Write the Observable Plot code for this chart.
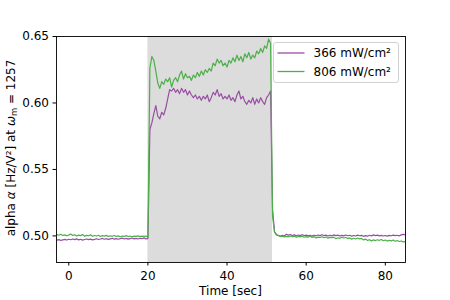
<!DOCTYPE html>
<html><head><meta charset="utf-8">
<script src="https://cdn.jsdelivr.net/npm/d3@7"></script>
<script src="https://cdn.jsdelivr.net/npm/@observablehq/plot@0.6"></script>
<style>
body{margin:0;background:#fff}
svg{font-family:"DejaVu Sans",sans-serif}
</style>
</head><body><div id="chart"></div>
<script>
const seriesNames = ["366 mW/cm²", "806 mW/cm²"];
const seriesColors = ["#984ea3", "#4daf4a"];
const lightOn = [{start: 20, end: 51.5}];
const xTicks = [0, 20, 40, 60, 80];
const yTicks = [0.50, 0.55, 0.60, 0.65];
const xDomain = [-3.1, 85.1];
const yDomain = [0.48, 0.65];
// sample times: every 0.5 s from -3 to 85
const time = d3.range(-3, 85.001, 0.5);

// 366 mW/cm² series
const alpha366 = [
  0.4968,0.4972,0.4966,0.4970,0.4974,0.4969,0.4975,0.4971,0.4977,0.4972,
  0.4978,0.4970,0.4975,0.4968,0.4973,0.4977,0.4972,0.4976,0.4970,0.4974,
  0.4979,0.4973,0.4977,0.4981,0.4975,0.4979,0.4974,0.4978,0.4982,0.4976,
  0.4980,0.4975,0.4979,0.4983,0.4977,0.4981,0.4976,0.4980,0.4984,0.4978,
  0.4981,0.4977,0.4982,0.4979,0.4985,0.4978,
  0.4980,
  0.580,0.585,0.592,0.598,0.590,0.588,0.593,0.591,0.596,0.603,
  0.610,0.609,0.611,0.608,0.610,0.607,0.611,0.608,0.610,0.606,
  0.609,0.606,0.604,0.606,0.603,0.605,0.602,0.605,0.603,0.606,
  0.601,0.604,0.608,0.606,0.610,0.605,0.607,0.603,0.605,0.603,
  0.606,0.602,0.604,0.601,0.606,0.609,0.603,0.605,0.601,0.599,
  0.602,0.600,0.604,0.599,0.603,0.600,0.604,0.601,0.599,0.604,
  0.606,0.609,
  0.520,0.503,
  0.5008,0.5002,0.4998,0.5004,0.4999,0.5012,0.5006,0.5010,0.5003,0.5008,
  0.5001,0.5007,0.5002,0.5009,0.5003,0.5006,0.5000,0.5005,0.4998,0.5004,
  0.5001,0.5007,0.5002,0.5009,0.5003,0.5006,0.4999,0.5005,0.5000,0.5008,
  0.5002,0.5006,0.4999,0.5004,0.5000,0.5007,0.5001,0.5005,0.4998,0.5003,
  0.4999,0.5006,0.5001,0.5004,0.4997,0.5002,0.4998,0.5005,0.5000,0.5008,
  0.5002,0.5006,0.5000,0.5004,0.4999,0.5003,0.4998,0.5004,0.5001,0.5006,
  0.5002,0.5005,0.5000,0.5008,0.5012,0.5010
];

// 806 mW/cm² series
const alpha806 = [
  0.5010,0.5005,0.5012,0.5003,0.5008,0.5001,0.5006,0.5014,0.5004,0.5009,
  0.4999,0.5006,0.5002,0.5010,0.4998,0.5004,0.5001,0.5008,0.4997,0.5003,
  0.4999,0.5005,0.4996,0.5002,0.4998,0.5004,0.4995,0.5001,0.4997,0.5003,
  0.4996,0.5000,0.4994,0.4999,0.4996,0.5002,0.4995,0.4999,0.4994,0.4998,
  0.4996,0.5000,0.4995,0.4998,0.4997,0.4999,
  0.4990,
  0.626,0.635,0.632,0.624,0.615,0.611,0.616,0.614,0.618,0.616,
  0.619,0.612,0.617,0.619,0.616,0.621,0.624,0.618,0.622,0.619,
  0.620,0.617,0.621,0.619,0.623,0.620,0.624,0.621,0.625,0.623,
  0.626,0.624,0.630,0.628,0.633,0.630,0.632,0.628,0.630,0.627,
  0.632,0.630,0.634,0.631,0.636,0.632,0.635,0.631,0.637,0.634,
  0.638,0.633,0.636,0.634,0.639,0.637,0.641,0.638,0.643,0.641,
  0.648,0.645,
  0.515,0.503,
  0.5010,0.5003,0.4995,0.4998,0.4992,0.4997,0.4993,0.4999,0.4994,0.4997,
  0.4991,0.4996,0.4993,0.4998,0.4990,0.4995,0.4991,0.4997,0.4989,0.4994,
  0.4985,0.4991,0.4988,0.4994,0.4987,0.4992,0.4983,0.4989,0.4986,0.4991,
  0.4979,0.4986,0.4982,0.4990,0.4984,0.4988,0.4980,0.4985,0.4975,0.4982,
  0.4977,0.4984,0.4978,0.4981,0.4970,0.4976,0.4966,0.4972,0.4962,0.4970,
  0.4965,0.4971,0.4967,0.4973,0.4964,0.4969,0.4961,0.4967,0.4963,0.4969,
  0.4960,0.4965,0.4958,0.4962,0.4955,0.4958
];

const seriesValues = [alpha366, alpha806];
const data = [];
seriesValues.forEach((vals, k) => {
  vals.forEach((v, i) => { if (i < time.length) data.push({t: time[i], v, s: seriesNames[k]}); });
});

const FS = 12;
const plot = Plot.plot({
  width: 450, height: 300,
  marginLeft: 56, marginRight: 45, marginTop: 36, marginBottom: 38,
  style: {fontFamily: "DejaVu Sans", fontSize: FS + "px", background: "white", color: "black", overflow: "visible"},
  x: {domain: xDomain},
  y: {domain: yDomain},
  color: {domain: seriesNames, range: seriesColors},
  marks: [
    Plot.rect(lightOn, {x1: "start", x2: "end", fill: "#dcdcdc"}),
    Plot.line(data, {x: "t", y: "v", z: "s", stroke: "s", strokeWidth: 1.2, clip: true}),
    Plot.frame({stroke: "black", strokeWidth: 0.9}),
    Plot.axisX({ticks: xTicks, tickSize: 3.5, tickPadding: 5, label: null, fontSize: FS, tickFormat: d => d}),
    Plot.axisY({ticks: yTicks, tickSize: 3.5, tickPadding: 4, label: null, fontSize: FS, tickFormat: ".2f"})
  ]
});
document.getElementById("chart").appendChild(plot);

const svg = d3.select(plot);
const xs = plot.scale("x"), ys = plot.scale("y");
const cx = (xs.range[0] + xs.range[1]) / 2;
const cy = (ys.range[0] + ys.range[1]) / 2;

// x label
svg.append("text").attr("x", cx).attr("y", 295).attr("text-anchor", "middle")
  .attr("font-size", FS).attr("fill", "black").text("Time [sec]");

// y label with math
const yl = svg.append("text").attr("transform", `translate(14.5,${cy - 1}) rotate(-90)`)
  .attr("text-anchor", "middle").attr("font-size", FS).attr("fill", "black");
yl.append("tspan").text("alpha ");
yl.append("tspan").attr("font-style", "italic").text("α");
yl.append("tspan").text(" [Hz/V²] at ");
yl.append("tspan").attr("font-style", "italic").text("ω");
yl.append("tspan").attr("font-size", FS * 0.7).attr("dy", 2.5).text("m");
yl.append("tspan").attr("dy", -2.5).text(" = 1257");

// legend
const lg = svg.append("g").attr("text-anchor", "start");
const lx = 273.5, ly = 42.5, lw = 125, lh = 40;
lg.append("rect").attr("x", lx).attr("y", ly).attr("width", lw).attr("height", lh)
  .attr("rx", 2.5).attr("fill", "white").attr("fill-opacity", 0.85)
  .attr("stroke", "#cccccc").attr("stroke-width", 0.9);
seriesNames.forEach((name, i) => {
  const yy = ly + 10.5 + i * 18.5;
  lg.append("line").attr("x1", lx + 4).attr("x2", lx + 31).attr("y1", yy).attr("y2", yy)
    .attr("stroke", seriesColors[i]).attr("stroke-width", 1.3);
  lg.append("text").attr("x", lx + 40).attr("y", yy).attr("dy", "0.35em")
    .attr("text-anchor", "start")
    .attr("font-size", FS).attr("fill", "black").text(name);
});
</script>
</body></html>
